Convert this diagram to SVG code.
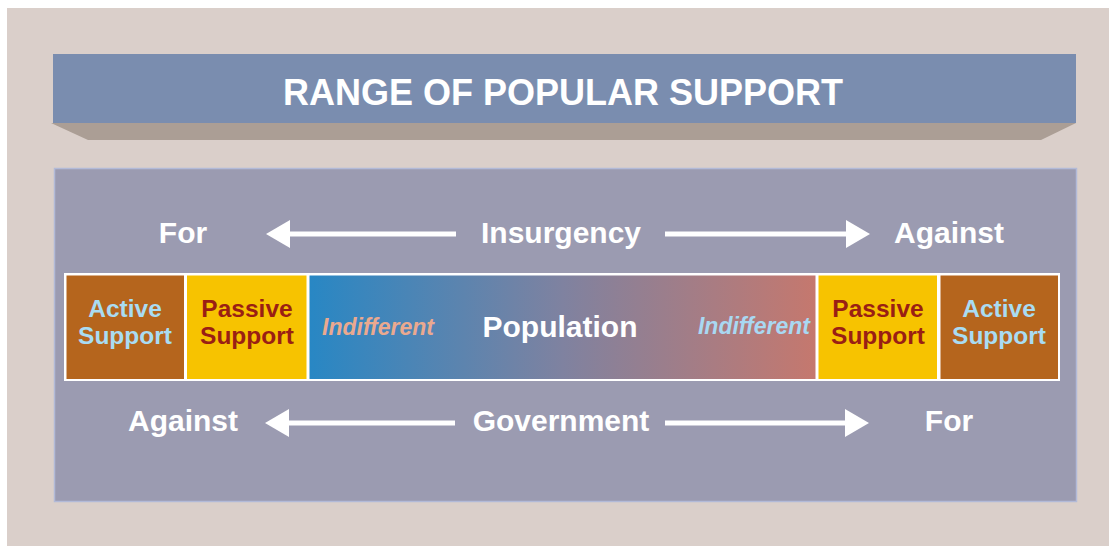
<svg xmlns="http://www.w3.org/2000/svg" width="1109" height="546" viewBox="0 0 1109 546">
<defs>
<style>
.t{font-family:"Liberation Sans",Arial,sans-serif;font-weight:bold;}
.w{fill:#ffffff;}
.act{fill:#b5651d;}
.pas{fill:#f7c300;}
.actT{fill:#a9dcf2;font-size:24.5px;}
.pasT{fill:#9a1f14;font-size:24.5px;}
.ind{font-style:italic;font-size:23px;}
.lbl{font-size:30px;fill:#ffffff;}
.ln{stroke:#ffffff;stroke-width:5;fill:none;}
</style>
<linearGradient id="pop" x1="0" y1="0" x2="1" y2="0">
<stop offset="0" stop-color="#2887c4"/>
<stop offset="0.5" stop-color="#7f82a0"/>
<stop offset="1" stop-color="#c5786e"/>
</linearGradient>
<marker id="ah" viewBox="0 0 24 28" refX="0" refY="14" markerWidth="24" markerHeight="28" markerUnits="userSpaceOnUse" orient="auto">
<path d="M0,0 L24,14 L0,28 Z" fill="#ffffff"/>
</marker>
</defs>
<rect x="0" y="0" width="1109" height="546" fill="#ffffff"/>
<rect x="7" y="8" width="1102" height="538" fill="#dacfca"/>
<g id="title">
<polygon points="51,123 1076,123 1041,140 88,140" fill="#ab9e95"/>
<rect x="53" y="54" width="1023" height="69" fill="#7a8daf"/>
<text class="t w" x="563" y="105" font-size="36" text-anchor="middle">RANGE OF POPULAR SUPPORT</text>
</g>
<g id="panel">
<rect x="54.5" y="168.5" width="1022" height="333" fill="#9b9bb1" stroke="#b2bad8" stroke-width="1.5"/>
</g>
<g id="bar">
<rect x="64" y="273" width="996" height="108" fill="#ffffff"/>
</g>
<g id="active-left">
<rect class="act" x="66.5" y="275.5" width="117.5" height="103.5"/>
<text class="t actT" x="125" y="317" text-anchor="middle">Active</text>
<text class="t actT" x="125" y="344" text-anchor="middle">Support</text>
</g>
<g id="passive-left">
<rect class="pas" x="187" y="275.5" width="119.5" height="103.5"/>
<text class="t pasT" x="247" y="317" text-anchor="middle">Passive</text>
<text class="t pasT" x="247" y="344" text-anchor="middle">Support</text>
</g>
<g id="population">
<rect x="309.5" y="275.5" width="506" height="103.5" fill="url(#pop)"/>
<text class="t ind" x="322" y="335" fill="#eaa98f">Indifferent</text>
<text class="t lbl" x="560" y="337" text-anchor="middle">Population</text>
<text class="t ind" x="810" y="334" fill="#a9d8f2" text-anchor="end">Indifferent</text>
</g>
<g id="passive-right">
<rect class="pas" x="818.5" y="275.5" width="118.5" height="103.5"/>
<text class="t pasT" x="878" y="317" text-anchor="middle">Passive</text>
<text class="t pasT" x="878" y="344" text-anchor="middle">Support</text>
</g>
<g id="active-right">
<rect class="act" x="940.5" y="275.5" width="117.5" height="103.5"/>
<text class="t actT" x="999" y="317" text-anchor="middle">Active</text>
<text class="t actT" x="999" y="344" text-anchor="middle">Support</text>
</g>
<g id="labels">
<text class="t lbl" x="183" y="243" text-anchor="middle">For</text>
<text class="t lbl" x="561" y="243" text-anchor="middle">Insurgency</text>
<text class="t lbl" x="949" y="243" text-anchor="middle">Against</text>
<text class="t lbl" x="183" y="431" text-anchor="middle">Against</text>
<text class="t lbl" x="561" y="431" text-anchor="middle">Government</text>
<text class="t lbl" x="949" y="431" text-anchor="middle">For</text>
</g>
<g id="connectors">
<line class="ln" x1="456" y1="234" x2="290" y2="234" marker-end="url(#ah)"/>
<line class="ln" x1="665" y1="234" x2="846" y2="234" marker-end="url(#ah)"/>
<line class="ln" x1="455" y1="423" x2="289" y2="423" marker-end="url(#ah)"/>
<line class="ln" x1="665" y1="423" x2="845" y2="423" marker-end="url(#ah)"/>
</g>
</svg>
